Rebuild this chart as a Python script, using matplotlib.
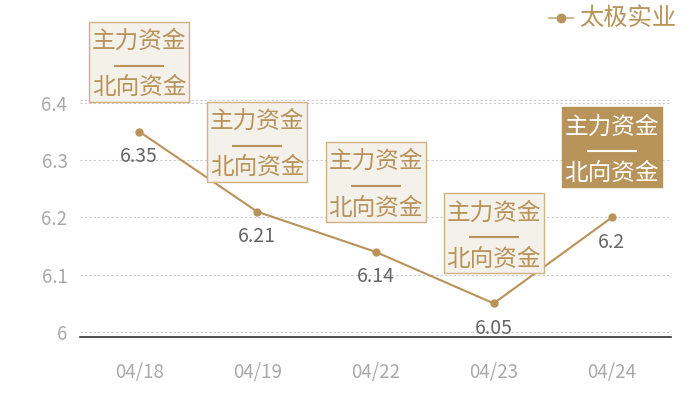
import matplotlib
matplotlib.use('Agg')
import matplotlib.pyplot as plt
from matplotlib.lines import Line2D
from matplotlib.path import Path
from matplotlib.transforms import offset_copy

plt.rcParams['font.family'] = ['Noto Sans CJK SC', 'DejaVu Sans']

# 数据
dates = ['04/18', '04/19', '04/22', '04/23', '04/24']
prices = [6.35, 6.21, 6.14, 6.05, 6.2]
highlight = [False, False, False, False, True]
box_text = '主力资金\n\n北向资金'
series_name = '太极实业'

gold = '#b8935a'
box_fill = '#f4f0ea'
box_edge = '#cfb184'

fig = plt.figure(figsize=(7, 4), dpi=100)
ax = fig.add_axes([80 / 700, 63 / 400, 591 / 700, 237 / 400])

x = list(range(len(dates)))
ax.plot(x, prices, color=gold, linewidth=1.5, marker='o', markersize=6,
        markeredgewidth=0, zorder=3)

ax.set_xlim(-0.5, len(dates) - 0.5)
ax.set_ylim(5.9913, 6.405)
ax.set_xticks(x)
ax.set_xticklabels(dates)
ax.set_yticks([6, 6.1, 6.2, 6.3, 6.4])
ax.set_yticklabels(['6', '6.1', '6.2', '6.3', '6.4'])
ax.tick_params(axis='both', length=0, colors='#aaaaaa', labelsize=13.5)
ax.tick_params(axis='x', pad=18)
ax.tick_params(axis='y', pad=9)

for s in ['top', 'right', 'left']:
    ax.spines[s].set_visible(False)
ax.spines['bottom'].set_color('#333333')
ax.spines['bottom'].set_linewidth(1.2)

ax.grid(axis='y', linestyle=(0, (2, 2)), color='#cccccc', linewidth=0.8)
ax.axhline(6.405, linestyle=(0, (2, 2)), color='#cccccc', linewidth=0.8, clip_on=False)
ax.set_axisbelow(True)

# 框和分隔线（相对数据点偏移，单位 pt）
box_trans = offset_copy(ax.transData, fig=fig, x=0, y=50.4, units='points')
dash_trans = offset_copy(ax.transData, fig=fig, x=0, y=47.5, units='points')
box_marker = Path([(-0.5, -0.4), (0.5, -0.4), (0.5, 0.4), (-0.5, 0.4), (-0.5, -0.4)],
                  [Path.MOVETO, Path.LINETO, Path.LINETO, Path.LINETO, Path.CLOSEPOLY])

# 数值标签和资金框
for xi, yi, hl in zip(x, prices, highlight):
    ax.annotate(f'{yi:g}', (xi, yi), xytext=(0, -18), textcoords='offset points',
                ha='center', va='center', fontsize=14, color='#666666',
                annotation_clip=False)
    if hl:
        fc, ec, tc = gold, gold, 'white'
    else:
        fc, ec, tc = box_fill, box_edge, gold
    ax.plot([xi], [yi], marker=box_marker, markersize=72, markerfacecolor=fc,
            markeredgecolor=ec, markeredgewidth=1.0, linestyle='none',
            transform=box_trans, clip_on=False, zorder=4)
    ax.annotate(box_text, (xi, yi), xytext=(0, 48.4), textcoords='offset points',
                ha='center', va='center', multialignment='center',
                fontsize=17, color=tc, linespacing=1.02,
                annotation_clip=False, zorder=5)
    ax.plot([xi], [yi], marker='_', markersize=36, markeredgewidth=1.5,
            color=tc, transform=dash_trans, clip_on=False, zorder=5)

# 图例（手动绘制）
fig.add_artist(Line2D([549 / 700, 573 / 700], [382 / 400, 382 / 400],
                      color=gold, linewidth=1.2, alpha=0.8))
fig.add_artist(Line2D([561 / 700], [382 / 400], color=gold, marker='o',
                      markersize=7, markeredgewidth=0, linestyle='none'))
fig.text(579 / 700, 382 / 400, series_name, ha='left', va='center',
         fontsize=17.5, color=gold)

fig.savefig('out.png', dpi=100)
